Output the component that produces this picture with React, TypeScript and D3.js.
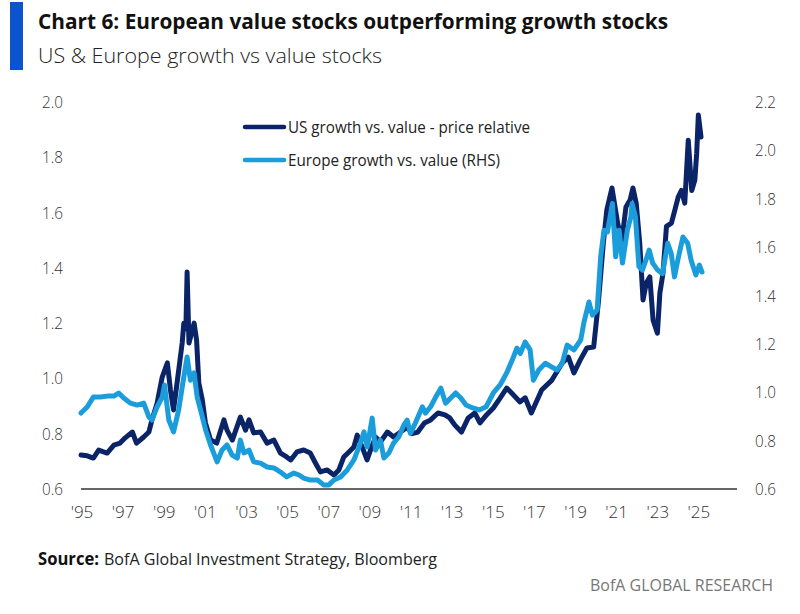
import React from "react";
import * as d3 from "d3";

// US growth vs value (left axis)
const usDates = [
  1995.0, 1995.3, 1995.6, 1995.86, 1996.27, 1996.6, 1996.9, 1997.15, 1997.5, 1997.7,
  1998.05, 1998.3, 1998.45, 1998.7, 1998.95, 1999.2, 1999.35, 1999.5, 1999.67, 1999.92,
  2000.0, 2000.1, 2000.16, 2000.25, 2000.5, 2000.62, 2000.73, 2000.9, 2001.05, 2001.3,
  2001.6, 2001.95, 2002.1, 2002.36, 2002.75, 2003.0, 2003.17, 2003.4, 2003.73, 2004.05,
  2004.38, 2004.7, 2005.0, 2005.2, 2005.5, 2005.83, 2006.15, 2006.4, 2006.64, 2006.97,
  2007.3, 2007.54, 2007.78, 2008.03, 2008.27, 2008.43, 2008.67, 2008.91, 2009.08, 2009.32,
  2009.56, 2009.9, 2010.2, 2010.54, 2010.87, 2011.1, 2011.38, 2011.7, 2012.0, 2012.36,
  2012.7, 2012.93, 2013.18, 2013.5, 2013.83, 2014.15, 2014.4, 2014.72, 2015.05, 2015.38,
  2015.7, 2015.94, 2016.35, 2016.6, 2016.9, 2017.4, 2017.9, 2018.4, 2018.7, 2018.97,
  2019.28, 2019.6, 2019.93, 2020.17, 2020.4, 2020.57, 2020.82, 2021.1, 2021.3, 2021.5,
  2021.7, 2021.84, 2022.0, 2022.17, 2022.33, 2022.49, 2022.66, 2022.82, 2023.03, 2023.15,
  2023.3, 2023.47, 2023.71, 2023.88, 2024.04, 2024.2, 2024.36, 2024.53, 2024.7, 2024.85,
  2024.94, 2025.02, 2025.15,
];
const usValues = [
  0.723, 0.72, 0.712, 0.741, 0.73, 0.759, 0.766, 0.785, 0.806, 0.766,
  0.788, 0.806, 0.85, 0.91, 1.005, 1.056, 0.958, 0.886, 0.983, 1.128,
  1.2, 1.18, 1.385, 1.128, 1.2, 1.139, 0.983, 0.922, 0.839, 0.777,
  0.766, 0.85, 0.813, 0.777, 0.86, 0.813, 0.85, 0.803, 0.806, 0.766,
  0.777, 0.73, 0.716, 0.705, 0.734, 0.741, 0.73, 0.694, 0.662, 0.669,
  0.651, 0.669, 0.716, 0.734, 0.752, 0.795, 0.752, 0.705, 0.741, 0.788,
  0.77, 0.806, 0.788, 0.806, 0.824, 0.8, 0.806, 0.839, 0.85, 0.875,
  0.868, 0.857, 0.831, 0.806, 0.857, 0.875, 0.839, 0.868, 0.893, 0.929,
  0.965, 0.947, 0.915, 0.93, 0.875, 0.958, 0.994, 1.056, 1.077, 1.02,
  1.067, 1.11, 1.114, 1.284, 1.49, 1.61, 1.689, 1.56, 1.5, 1.62,
  1.645, 1.689, 1.634, 1.49, 1.284, 1.345, 1.367, 1.211, 1.164, 1.309,
  1.38, 1.55, 1.562, 1.61, 1.656, 1.68, 1.634, 1.862, 1.68, 1.718,
  1.815, 1.953, 1.873,
];

// Europe growth vs value (right axis)
const euDates = [
  1995.0, 1995.3, 1995.6, 1995.95, 1996.27, 1996.6, 1996.83, 1997.08, 1997.4, 1997.73,
  1998.05, 1998.3, 1998.45, 1998.7, 1998.95, 1999.06, 1999.27, 1999.5, 1999.75, 1999.9,
  2000.0, 2000.16, 2000.32, 2000.5, 2000.65, 2000.9, 2001.06, 2001.3, 2001.62, 2001.86,
  2002.1, 2002.35, 2002.6, 2002.75, 2002.92, 2003.17, 2003.4, 2003.73, 2004.05, 2004.38,
  2004.7, 2005.0, 2005.35, 2005.6, 2005.83, 2006.15, 2006.5, 2006.8, 2007.05, 2007.3,
  2007.62, 2007.95, 2008.27, 2008.52, 2008.76, 2008.92, 2009.16, 2009.32, 2009.56, 2009.73,
  2009.97, 2010.2, 2010.45, 2010.7, 2010.86, 2011.02, 2011.26, 2011.6, 2011.75, 2012.0,
  2012.25, 2012.5, 2012.73, 2012.98, 2013.22, 2013.47, 2013.72, 2014.05, 2014.37, 2014.7,
  2015.05, 2015.38, 2015.7, 2016.03, 2016.2, 2016.36, 2016.6, 2016.84, 2017.0, 2017.26,
  2017.58, 2017.9, 2018.15, 2018.4, 2018.64, 2018.97, 2019.3, 2019.46, 2019.7, 2019.87,
  2020.1, 2020.27, 2020.43, 2020.6, 2020.84, 2021.0, 2021.17, 2021.33, 2021.57, 2021.74,
  2021.8, 2021.96, 2022.13, 2022.3, 2022.47, 2022.63, 2022.8, 2023.04, 2023.28, 2023.53,
  2023.7, 2023.86, 2024.02, 2024.27, 2024.5, 2024.67, 2024.9, 2025.07, 2025.2,
];
const euValues = [
  0.914, 0.939, 0.98, 0.98, 0.984, 0.984, 0.997, 0.976, 0.955, 0.947,
  0.955, 0.898, 0.885, 0.939, 0.98, 1.03, 0.885, 0.836, 0.927, 1.01,
  1.063, 1.146, 1.05, 1.08, 0.98, 0.898, 0.844, 0.782, 0.712, 0.761,
  0.782, 0.74, 0.728, 0.802, 0.749, 0.761, 0.712, 0.707, 0.691, 0.687,
  0.67, 0.65, 0.666, 0.658, 0.645, 0.637, 0.637, 0.617, 0.617, 0.637,
  0.65, 0.679, 0.72, 0.774, 0.836, 0.774, 0.893, 0.761, 0.802, 0.728,
  0.749, 0.79, 0.815, 0.865, 0.885, 0.83, 0.873, 0.94, 0.914, 0.94,
  0.98, 1.017, 0.955, 0.976, 0.997, 0.976, 0.947, 0.935, 0.927, 0.94,
  0.997, 1.03, 1.08, 1.146, 1.183, 1.16, 1.208, 1.175, 1.05, 1.092,
  1.12, 1.104, 1.092, 1.12, 1.195, 1.175, 1.216, 1.29, 1.373, 1.319,
  1.34, 1.56, 1.67, 1.663, 1.78, 1.56, 1.67, 1.534, 1.67, 1.725,
  1.78, 1.725, 1.52, 1.505, 1.546, 1.588, 1.534, 1.505, 1.49, 1.616,
  1.574, 1.477, 1.546, 1.642, 1.616, 1.546, 1.485, 1.526, 1.497,
];

const xTickYears = [1995, 1997, 1999, 2001, 2003, 2005, 2007, 2009, 2011, 2013, 2015, 2017, 2019, 2021, 2023, 2025];
const leftTicks = [0.6, 0.8, 1.0, 1.2, 1.4, 1.6, 1.8, 2.0];
const rightTicks = [0.6, 0.8, 1.0, 1.2, 1.4, 1.6, 1.8, 2.0, 2.2];

const seriesNames = ["US growth vs. value - price relative", "Europe growth vs. value (RHS)"];
const title = "Chart 6: European value stocks outperforming growth stocks";
const subtitle = "US & Europe growth vs value stocks";

const DARK = "#0b2468";
const LIGHT = "#1b9ddb";
const FONT = "'Open Sans', sans-serif";

export default function App() {
  const x = d3.scaleLinear().domain([1995, 2026.9]).range([81, 737]);
  const yL = d3.scaleLinear().domain([0.6, 2.0]).range([489, 102]);
  const yR = d3.scaleLinear().domain([0.6, 2.2]).range([489, 102]);

  const usLine = d3
    .line<number>()
    .x((_, i) => x(usDates[i]))
    .y((d) => yL(d));
  const euLine = d3
    .line<number>()
    .x((_, i) => x(euDates[i]))
    .y((d) => yR(d));

  return (
    <svg
      width={800}
      height={614}
      style={{ position: "absolute", left: 0, top: 0, background: "#fff" }}
      fontFamily={FONT}
    >
      <rect x={0} y={0} width={800} height={614} fill="#fff" />
      {/* title block */}
      <rect x={10} y={2} width={13} height={68} fill="#0a55cf" />
      <text x={38} y={29} fontSize={21} fontWeight={700} fill="#111" textLength={630} lengthAdjust="spacingAndGlyphs">
        {title}
      </text>
      <text x={38} y={63} fontSize={21} fontWeight={300} fill="#222" textLength={344} lengthAdjust="spacingAndGlyphs">
        {subtitle}
      </text>

      {/* left ticks */}
      {leftTicks.map((t) => (
        <text key={"l" + t} x={63} y={yL(t) + 6} fontSize={17} fontWeight={300} fill="#333" textAnchor="end" textLength={21} lengthAdjust="spacingAndGlyphs">
          {t.toFixed(1)}
        </text>
      ))}
      {/* right ticks */}
      {rightTicks.map((t) => (
        <text key={"r" + t} x={755} y={yR(t) + 6} fontSize={17} fontWeight={300} fill="#333" textLength={21} lengthAdjust="spacingAndGlyphs">
          {t.toFixed(1)}
        </text>
      ))}
      {/* x ticks */}
      {xTickYears.map((yr) => (
        <text key={"x" + yr} x={x(yr) + 1} y={518} fontSize={17} fontWeight={300} fill="#333" textAnchor="middle">
          {"'" + String(yr).slice(2)}
        </text>
      ))}

      {/* axis line */}
      <line x1={81} x2={737} y1={489} y2={489} stroke="#333" strokeWidth={1.5} />

      {/* series */}
      <path d={usLine(usValues) || ""} fill="none" stroke={DARK} strokeWidth={5} strokeLinejoin="round" strokeLinecap="round" />
      <path d={euLine(euValues) || ""} fill="none" stroke={LIGHT} strokeWidth={5} strokeLinejoin="round" strokeLinecap="round" />

      {/* legend */}
      <line x1={245} x2={284} y1={127} y2={127} stroke={DARK} strokeWidth={4.5} strokeLinecap="round" />
      <text x={288} y={133} fontSize={17} fill="#222" textLength={242} lengthAdjust="spacingAndGlyphs">
        {seriesNames[0]}
      </text>
      <line x1={245} x2={284} y1={160} y2={160} stroke={LIGHT} strokeWidth={4.5} strokeLinecap="round" />
      <text x={288} y={166} fontSize={17} fill="#222" textLength={212} lengthAdjust="spacingAndGlyphs">
        {seriesNames[1]}
      </text>

      {/* source */}
      <text x={38} y={565} fontSize={17} fontWeight={700} fill="#111" textLength={61} lengthAdjust="spacingAndGlyphs">
        Source:
      </text>
      <text x={104} y={565} fontSize={17} fill="#222" textLength={333} lengthAdjust="spacingAndGlyphs">
        BofA Global Investment Strategy, Bloomberg
      </text>
      <text x={773} y={591} fontSize={17} fill="#777" textAnchor="end" textLength={183} lengthAdjust="spacingAndGlyphs">
        BofA GLOBAL RESEARCH
      </text>
    </svg>
  );
}
